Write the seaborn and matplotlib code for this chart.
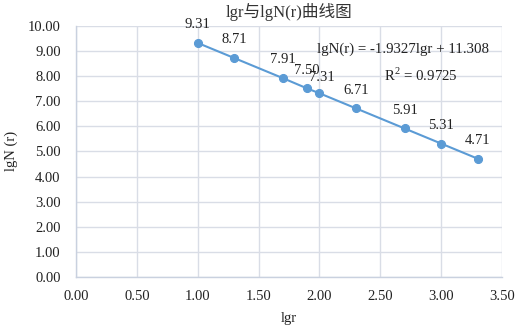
import matplotlib
matplotlib.use("Agg")
import matplotlib.pyplot as plt
import seaborn as sns
import pandas as pd

lgr = [1.00, 1.30, 1.70, 1.90, 2.00, 2.30, 2.70, 3.00, 3.30]
lgN = [9.31, 8.71, 7.91, 7.50, 7.31, 6.71, 5.91, 5.31, 4.71]
point_labels = ["9.31", "8.71", "7.91", "7.50", "7.31", "6.71", "5.91", "5.31", "4.71"]
x_ticks = [0.0, 0.5, 1.0, 1.5, 2.0, 2.5, 3.0, 3.5]
y_ticks = [0, 1, 2, 3, 4, 5, 6, 7, 8, 9, 10]
title = "lgr与lgN(r)曲线图"
equation = "lgN(r) = -1.9327lgr + 11.308"
r2_text = "R$^2$ = 0.9725"

sns.set_theme(style="white")
plt.rcParams['font.family'] = ['Liberation Serif', 'Noto Sans CJK SC']
plt.rcParams['mathtext.fontset'] = 'custom'
plt.rcParams['mathtext.rm'] = 'Liberation Serif'

df = pd.DataFrame({"lgr": lgr, "lgN": lgN})

fig = plt.figure(figsize=(5.17, 3.28), dpi=100)
ax = fig.add_axes([0.147, 0.155, 0.824, 0.767])

blue = "#5b9bd5"
sns.lineplot(data=df, x="lgr", y="lgN", ax=ax, color=blue, linewidth=1.5,
             marker="o", markersize=5.8, markeredgecolor=blue, sort=False)

offsets = {"7.31": (1.5, 6.5)}
for x, y, t in zip(lgr, lgN, point_labels):
    dx, dy = offsets.get(t, (0, 8.5))
    ax.annotate(t, (x, y), xytext=(dx, dy), textcoords="offset points",
                ha="center", va="bottom", fontsize=10.5, color="#222222")

ax.text(2.69, 9.05, equation, ha="center", va="center", fontsize=10.7, color="#222222")
ax.text(2.83, 8.03, r2_text, ha="center", va="center", fontsize=10.7, color="#222222")

ax.set_xlim(0, 3.5)
ax.set_ylim(0, 10)
ax.set_xticks(x_ticks)
ax.set_yticks(y_ticks)
ax.set_xticklabels([f"{v:.2f}" for v in x_ticks])
ax.set_yticklabels([f"{v:.2f}" for v in y_ticks])
ax.tick_params(axis="y", labelsize=10.5, colors="#222222", length=0, pad=11)
ax.tick_params(axis="x", labelsize=10.5, colors="#222222", length=0, pad=9)

grid_c = "#d9dde6"
ax.grid(True, color=grid_c, linewidth=1.0)
ax.set_axisbelow(True)
for s in ["top", "right"]:
    ax.spines[s].set_visible(False)
for s in ["left", "bottom"]:
    ax.spines[s].set_color("#c9d1df")
    ax.spines[s].set_linewidth(1.0)

ax.set_xlabel("lgr", fontsize=10.5, color="#222222", labelpad=7)
ax.set_ylabel("lgN (r)", fontsize=10.5, color="#222222", labelpad=7)
ax.set_title(title, fontsize=12, color="#333333", pad=6)

fig.savefig("out.png", dpi=100)
